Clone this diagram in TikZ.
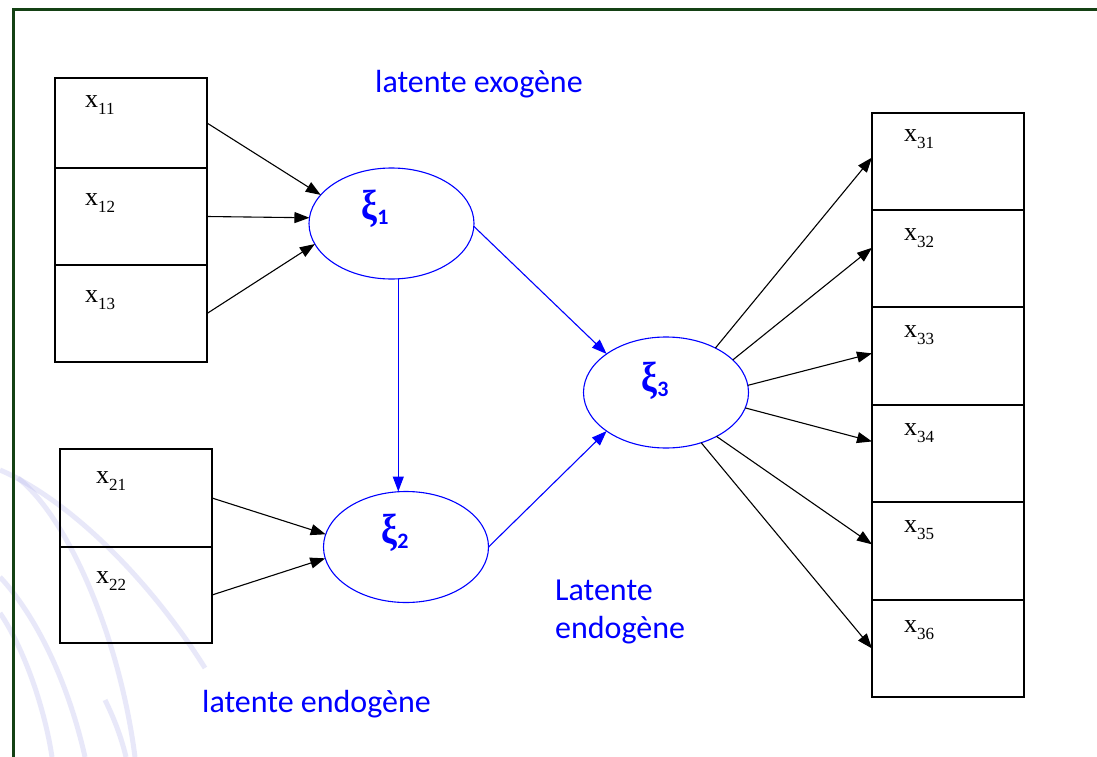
\documentclass[tikz,border=0pt]{standalone}
\usepackage{fontspec}
\usepackage{graphicx}
\setmainfont{Liberation Serif}
\newfontfamily\calib{Carlito}
\usetikzlibrary{arrows.meta,calc,shapes.geometric}
\definecolor{framegreen}{RGB}{20,65,20}
\definecolor{arcblue}{RGB}{190,190,240}
\newcommand\xs[1]{x\raisebox{-7pt}{\fontsize{17}{17}\selectfont #1}}
\newcommand\xis[1]{\scalebox{0.85}[1]{\bfseries\fontsize{42}{42}\selectfont ξ}\raisebox{-5pt}{\calib\bfseries\fontsize{22}{22}\selectfont #1}}
\begin{document}
\begin{tikzpicture}[x=1pt,y=-1pt,
  box/.style={draw=black, line width=1.1pt, minimum width=152pt, inner sep=0pt, outer sep=0pt},
  lat/.style={ellipse, draw=blue, line width=1.1pt, minimum width=165pt, minimum height=111pt, inner sep=0pt, outer sep=0pt},
  arr/.style={draw=black, line width=1.1pt, -{Triangle[length=15pt,width=11pt]}},
  barr/.style={draw=blue, line width=1.1pt, -{Triangle[length=15pt,width=11pt]}},
  xlab/.style={anchor=base west, inner sep=0pt, font=\fontsize{26}{26}\selectfont},
  xilab/.style={text=blue, inner sep=0pt},
  blab/.style={text=blue, anchor=base west, inner sep=0pt, align=left, font=\calib\fontsize{32}{38}\selectfont},
  bgarc/.style={draw=arcblue, line width=5pt, opacity=0.35}]
\useasboundingbox (0,0) rectangle (1097,757);
\fill[white] (0,0) rectangle (1097,757);
% background arcs
\draw[bgarc] (0,470) .. controls (70,500) and (150,580) .. (205,668);
\draw[bgarc] (18,478) .. controls (70,520) and (120,640) .. (135,757);
\draw[bgarc] (0,577) .. controls (40,620) and (70,690) .. (85,757);
\draw[bgarc] (0,613) .. controls (25,650) and (45,710) .. (52,757);
\draw[bgarc] (105,700) .. controls (115,720) and (122,740) .. (126,757);
% frame
\draw[framegreen, line width=2.5pt] (13.5,757) -- (13.5,9.5) -- (1097,9.5);
% left boxes
\node[box, minimum height=90pt] (x11) at (131,123) {};
\node[box, minimum height=97pt] (x12) at (131,216.5) {};
\node[box, minimum height=97pt] (x13) at (131,313.5) {};
\node[box, minimum height=98pt] (x21) at (136,498) {};
\node[box, minimum height=96pt] (x22) at (136,595) {};
% right boxes
\node[box, minimum height=97pt] (x31) at (948,161.5) {};
\node[box, minimum height=97pt] (x32) at (948,258.5) {};
\node[box, minimum height=98pt] (x33) at (948,356) {};
\node[box, minimum height=97pt] (x34) at (948,453.5) {};
\node[box, minimum height=98pt] (x35) at (948,551) {};
\node[box, minimum height=97pt] (x36) at (948,648.5) {};
% box labels
\node[xlab] (l11) at (85,108) {\xs{11}};
\node[xlab] (l12) at (85,205) {\xs{12}};
\node[xlab] (l13) at (85,302) {\xs{13}};
\node[xlab] (l21) at (96,483) {\xs{21}};
\node[xlab] (l22) at (96,583) {\xs{22}};
\node[xlab] (l31) at (904,142) {\xs{31}};
\node[xlab] (l32) at (904,240) {\xs{32}};
\node[xlab] (l33) at (904,337) {\xs{33}};
\node[xlab] (l34) at (904,435) {\xs{34}};
\node[xlab] (l35) at (904,532) {\xs{35}};
\node[xlab] (l36) at (904,632) {\xs{36}};
% latent ellipses
\node[lat] (xi1) at (391.5,223.5) {};
\node[lat] (xi2) at (406,547) {};
\node[lat] (xi3) at (666,392.5) {};
\node[xilab] (t1) at (375,209) {\xis{1}};
\node[xilab] (t2) at (395,533) {\xis{2}};
\node[xilab] (t3) at (655,381) {\xis{3}};
% arrows into xi1
\draw[arr] (x11.east) -- (xi1.158);
\draw[arr] (x12.east) -- (xi1.176);
\draw[arr] (x13.east) -- (xi1.195);
% arrows into xi2
\draw[arr] (x21.east) -- (xi2.171);
\draw[arr] (x22.east) -- (xi2.188);
% structural arrows
\draw[barr] (xi1.358) -- (xi3.147);
\draw[barr] (xi1.277) -- (xi1.277 |- xi2.north);
\draw[barr] (xi2.east) -- (xi3.213);
% arrows out of xi3
\draw[arr] (xi3.42) -- (x31.177);
\draw[arr] (xi3.26) -- (x32.172);
\draw[arr] (xi3.5) -- (x33.178.5);
\draw[arr] (xi3.349) -- (x34.171);
\draw[arr] (xi3.319) -- (x35.175.5);
\draw[arr] (xi3.305) -- (x36.west);
% blue labels
\node[blab] (exo) at (375,93) {latente exogène};
\node[blab] (endo3) at (555,638) {Latente\\endogène};
\node[blab] (endo2) at (202,712) {latente endogène};
\end{tikzpicture}
\end{document}
